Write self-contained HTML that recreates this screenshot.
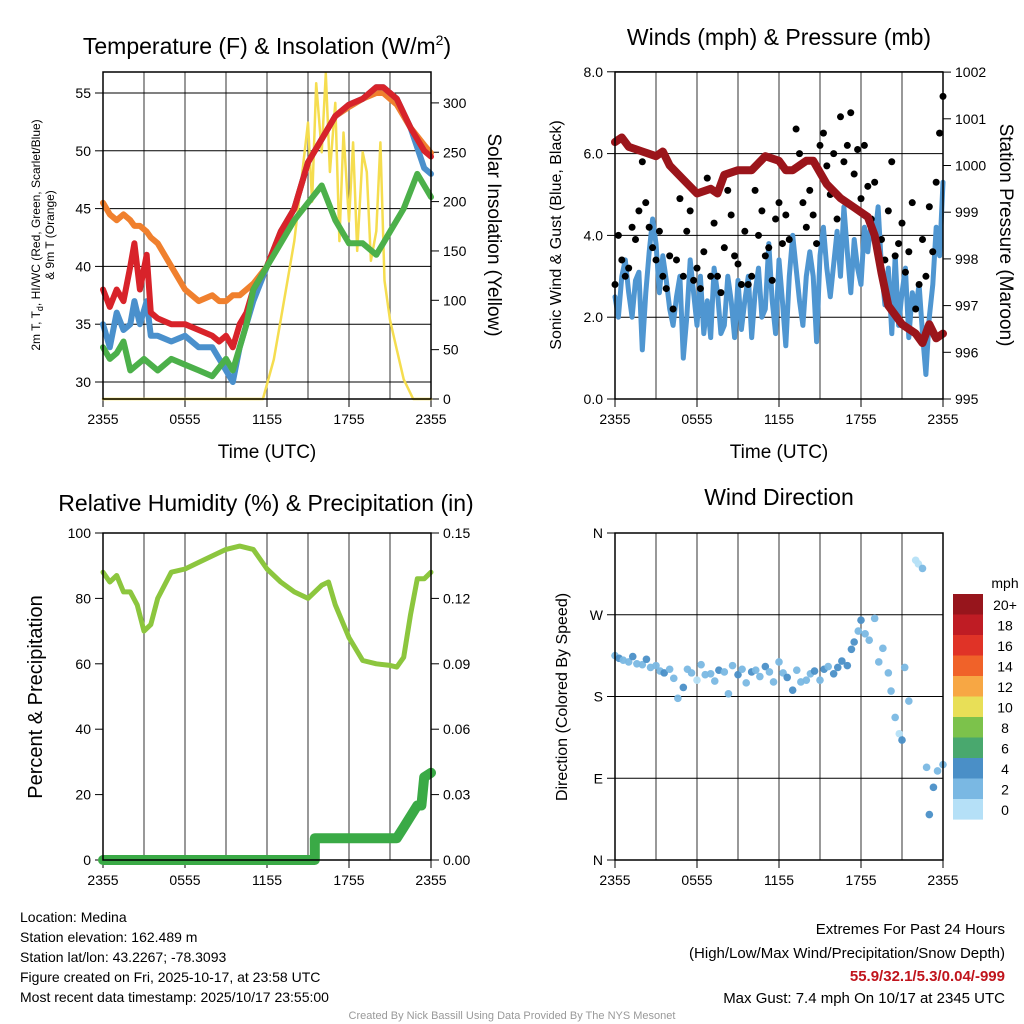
<!DOCTYPE html>
<html><head><meta charset="utf-8">
<style>
html,body{margin:0;padding:0;background:#fff;}
svg{display:block;font-family:"Liberation Sans",sans-serif;}
</style></head>
<body>
<svg id="c" width="1024" height="1024" viewBox="0 0 1024 1024" xmlns="http://www.w3.org/2000/svg">
<rect width="1024" height="1024" fill="#fff"/>
<g id="g"></g>
<text x="267" y="54" font-size="23" text-anchor="middle">Temperature (F) &amp; Insolation (W/m<tspan font-size="14" dy="-9">2</tspan><tspan dy="9">)</tspan></text>
<text x="779" y="45" font-size="23" text-anchor="middle">Winds (mph) &amp; Pressure (mb)</text>
<text x="266" y="511" font-size="23" text-anchor="middle">Relative Humidity (%) &amp; Precipitation (in)</text>
<text x="779" y="505" font-size="23" text-anchor="middle">Wind Direction</text>
<text x="267" y="458" font-size="19" text-anchor="middle">Time (UTC)</text>
<text x="779" y="458" font-size="19" text-anchor="middle">Time (UTC)</text>
<g font-size="12" text-anchor="middle">
<text transform="translate(40,235) rotate(-90)">2m T, T<tspan font-size="9" dy="3">d</tspan><tspan dy="-3">, HI/WC (Red, Green, Scarlet/Blue)</tspan></text>
<text transform="translate(54,235) rotate(-90)">&amp; 9m T (Orange)</text>
</g>
<text transform="translate(488,235) rotate(90)" font-size="19" text-anchor="middle">Solar Insolation (Yellow)</text>
<text transform="translate(561,235) rotate(-90)" font-size="16" text-anchor="middle">Sonic Wind &amp; Gust (Blue, Black)</text>
<text transform="translate(1000,235) rotate(90)" font-size="19" text-anchor="middle">Station Pressure (Maroon)</text>
<text transform="translate(42,697) rotate(-90)" font-size="20" text-anchor="middle">Percent &amp; Precipitation</text>
<text transform="translate(567,697) rotate(-90)" font-size="16" text-anchor="middle">Direction (Colored By Speed)</text>
<g font-size="14">
<text x="20" y="922">Location: Medina</text>
<text x="20" y="942">Station elevation: 162.489 m</text>
<text x="20" y="962">Station lat/lon: 43.2267; -78.3093</text>
<text x="20" y="982">Figure created on Fri, 2025-10-17, at 23:58 UTC</text>
<text x="20" y="1002">Most recent data timestamp: 2025/10/17 23:55:00</text>
</g>
<g font-size="15" text-anchor="end">
<text x="1005" y="934">Extremes For Past 24 Hours</text>
<text x="1005" y="958">(High/Low/Max Wind/Precipitation/Snow Depth)</text>
<text x="1005" y="981" fill="#c0141c" font-weight="bold">55.9/32.1/5.3/0.04/-999</text>
<text x="1005" y="1003">Max Gust: 7.4 mph On 10/17 at 2345 UTC</text>
</g>
<text x="512" y="1019" font-size="11" fill="#999" text-anchor="middle">Created By Nick Bassill Using Data Provided By The NYS Mesonet</text>
</svg>
<script>
// ---- data (hours since 2355) ----
var tHours=[0,0.5,1,1.5,2,2.3,2.7,3.2,3.5,4,5,6,7,8,8.5,9,9.5,10,10.5,11,12,13,14,15,16,17,18,19,20,20.5,21.5,22.5,23.5,24];
var tempRed=[38,36.5,38,37,40,42,38,41,36,35.5,35,35,34.5,34,33.5,34,33,35,36,38,40,43,45,49,51,53,54,54.5,55.5,55.5,54.5,52,50,49.5];
var temp9m=[45.5,44.5,44,44.5,44,43.5,43.5,43,42.5,42,40,38,37,37.5,37,37,37.5,37.5,38,38.5,40,43,45,49,51,53,53.8,54.5,55,55,54,52,50.5,49.8];
var tempWC=[35,33,36,34.5,35,37,35,37,34,34,33.5,34,33,33,32,31,30,33,35,37,40,43,45,49,51,53,54,54.5,55.5,55.5,54.5,52,48.5,48];
var dewHours=[0,0.5,1,1.5,2,3,4,5,6,7,8,9,9.5,10,10.5,11,12,13,14,15,16,17,18,19,20,20.5,21,22,23,24];
var dewpt=[33,32,32.5,33.5,31,32,31,32,31.5,31,30.5,32,31,33,35,38,40,42,44,45.5,47,44,42,42,41,42,43,45,48,46];
var solHours=[0,11.7,12,12.5,13,13.5,14,14.5,15,15.3,15.6,16,16.3,16.6,17,17.3,17.6,18,18.3,18.6,19,19.3,19.6,20,20.3,20.6,21,21.5,22,22.7,24];
var solar=[0,0,15,40,80,120,160,220,280,200,320,250,330,230,300,160,270,180,260,150,250,230,140,170,260,120,80,50,20,0,0];
var presHours=[0,0.5,1,2,3,3.5,4,5,6,7,7.5,8,9,10,11,12,12.5,13,14,14.5,15.5,16.5,17.5,18.5,19,19.5,20,21,22,22.5,23,23.5,24];
var pressure=[1000.5,1000.6,1000.4,1000.3,1000.2,1000.3,1000.0,999.7,999.4,999.5,999.4,999.8,999.9,999.9,1000.2,1000.1,999.9,999.9,1000.1,1000.1,999.6,999.3,999.1,998.9,998.5,997.7,997.0,996.6,996.4,996.2,996.6,996.3,996.4];
var wind=[2.5,2.0,3.0,3.4,2.6,2.0,2.9,3.1,1.2,2.6,3.6,4.4,3.8,2.6,3.5,2.9,2.2,1.8,2.5,3.0,1.0,2.0,3.4,2.6,1.8,3.0,1.6,2.4,1.5,3.2,2.6,1.6,1.8,3.0,2.4,1.5,2.9,1.7,2.4,3.0,1.5,2.6,3.2,2.0,2.2,3.8,2.4,1.6,3.4,2.4,1.3,3.0,4.0,3.2,2.4,1.8,3.0,3.6,3.0,1.4,3.5,4.2,3.2,2.5,3.3,4.1,3.0,4.7,3.6,2.6,3.9,3.2,2.8,4.2,3.6,4.4,3.9,4.7,3.2,2.3,3.2,1.6,3.5,1.8,2.6,3.2,1.5,2.6,2.2,2.8,1.6,0.6,2.0,2.8,4.2,3.5,5.3];
var gust=[2.8,4.0,3.4,3.0,3.2,4.2,3.9,4.6,5.8,4.8,4.2,3.7,3.4,4.1,3.0,2.7,3.5,2.2,3.4,4.9,3.0,4.1,4.6,2.9,3.2,2.7,3.6,5.4,3.0,4.3,3.0,2.6,3.7,5.1,4.5,3.5,3.3,2.8,4.1,2.8,3.0,5.1,4.0,4.6,3.5,3.7,2.9,4.4,4.8,3.8,4.5,3.9,5.6,6.6,6.0,4.8,4.2,5.1,4.5,3.8,6.2,6.5,5.7,5.0,6.0,4.4,6.9,5.8,6.2,7.0,5.5,6.1,4.9,6.2,5.2,4.4,5.3,3.6,3.9,3.4,4.6,5.8,3.5,3.8,4.3,3.1,3.6,4.8,2.2,2.8,3.9,3.0,4.7,3.6,5.3,6.5,7.4];
var rhHours=[0,0.5,1,1.5,2,2.5,3,3.5,4,5,6,7,8,9,10,11,12,13,14,15,16,16.5,17,18,19,20,21,21.5,22,22.5,23,23.5,24];
var rh=[88,85,87,82,82,78,70,72,80,88,89,91,93,95,96,95,89,85,82,80,84,85,78,68,61,60,59.5,59,62,75,86,86,88];
var precHours=[0,15.5,15.5,21.5,22,22.5,23,23.3,23.5,24];
var precip=[0,0,0.01,0.01,0.015,0.02,0.025,0.025,0.038,0.04];
var dirHours=[0,0.3,0.6,1,1.3,1.6,2,2.3,2.6,3,3.3,3.6,4,4.3,4.6,5,5.3,5.6,6,6.3,6.6,7,7.3,7.6,8,8.3,8.6,9,9.3,9.6,10,10.3,10.6,11,11.3,11.6,12,12.3,12.6,13,13.3,13.6,14,14.3,14.6,15,15.3,15.6,16,16.3,16.6,17,17.3,17.5,17.8,18,18.3,18.6,19,19.3,19.6,20,20.2,20.5,20.8,21,21.2,21.5,22,22.2,22.5,22.8,23,23.3,23.6,24];
var dirDeg=[225,222,220,218,224,216,215,221,212,214,208,206,210,200,178,190,210,206,198,215,204,205,197,209,207,183,214,204,210,195,207,209,202,213,207,196,218,206,201,187,209,196,198,205,208,198,210,213,205,212,219,214,232,240,252,264,249,242,266,218,233,206,186,157,139,132,212,175,330,326,321,102,50,80,98,105];
var dirSpd=[3,4,2,3,4,2,3,5,3,2,3,4,2,3,3,4,2,3,1,3,2,3,2,4,3,2,3,4,3,3,4,2,3,4,3,2,3,3,4,4,2,3,3,2,4,3,4,3,5,4,4,5,4,5,3,4,2,3,3,2,3,2,3,2,1,4,3,2,1,1,2,3,4,4,3,3];
var yTicksT=[30,35,40,45,50,55];
var yTicksSol=[0,50,100,150,200,250,300];
var yTicksW=["0.0","2.0","4.0","6.0","8.0"];
var yTicksP=[995,996,997,998,999,1000,1001,1002];
var yTicksRH=[0,20,40,60,80,100];
var yTicksPr=["0.00","0.03","0.06","0.09","0.12","0.15"];
var yTicksDir=["N","E","S","W","N"];
var xTickLabels=["2355","0555","1155","1755","2355"];
var cbarLabels=["20+","18","16","14","12","10","8","6","4","2","0"];
var cbarColors=["#97151c","#bf1c24","#e03327","#f06229","#f7a744","#e8df57","#7cc24b","#49a86e","#4a8fc7","#7ab8e3","#b5e0f7"];

var NS='http://www.w3.org/2000/svg';var G=document.getElementById('g');
function el(t,a,p){var e=document.createElementNS(NS,t);for(var k in a)e.setAttribute(k,a[k]);(p||G).appendChild(e);return e;}
function panel(x0,y0,name){
  var P={x0:x0,y0:y0,w:328,h:327};
  P.X=function(h){return x0+h/24*328;};
  P.g=el('g',{});
  for(var i=1;i<8;i++){var gx=P.X(i*3);el('line',{x1:gx,y1:y0,x2:gx,y2:y0+327,stroke:'#555','stroke-width':1.2},P.g);}
  for(var i=0;i<5;i++){var t=el('text',{x:P.X(i*6),y:y0+352,'font-size':14,'text-anchor':'middle'},P.g);t.textContent=xTickLabels[i];
    el('line',{x1:P.X(i*6),y1:y0+327,x2:P.X(i*6),y2:y0+335,stroke:'#000'},P.g);}
  return P;
}
function frame(P){el('rect',{x:P.x0,y:P.y0,width:328,height:327,fill:'none',stroke:'#000','stroke-width':1.5},P.g);}
function yTicks(P,vals,labels,fn,right,grid){
  for(var i=0;i<vals.length;i++){var y=fn(vals[i]);
    if(grid)el('line',{x1:P.x0,y1:y,x2:P.x0+328,y2:y,stroke:'#000','stroke-width':1},P.g);
    var xa=right?P.x0+328:P.x0;
    el('line',{x1:xa,y1:y,x2:xa+(right?8:-8),y2:y,stroke:'#000'},P.g);
    var t=el('text',{x:right?xa+12:xa-12,y:y+5,'font-size':14,'text-anchor':right?'start':'end'},P.g);t.textContent=labels[i];
    }
}
function line(P,xs,ys,fy,col,w,name){
  var d='';for(var i=0;i<xs.length;i++)d+=(i?'L':'M')+P.X(xs[i]).toFixed(1)+','+fy(ys[i]).toFixed(1);
  var p=el('path',{d:d,fill:'none',stroke:col,'stroke-width':w,'stroke-linejoin':'round','stroke-linecap':'round'},P.g);
  return p;}
function spd(s){return cbarColors[Math.max(0,10-Math.floor(s/2))];}

// Panel 1
var P1=panel(103,72,'temperature-panel');
var fT=function(v){return 382-(v-30)*11.56;};var fS=function(v){return 399-v*0.987;};
yTicks(P1,yTicksT,yTicksT,fT,false,true);
yTicks(P1,yTicksSol,yTicksSol,fS,true,false);
line(P1,solHours,solar,fS,'#f5dd4f',2.5,'solar-line');
line(P1,tHours,temp9m,fT,'#f0802e',6,'temp-9m-line');
line(P1,tHours,tempWC,fT,'#4a90cc',6,'windchill-line');
line(P1,tHours,tempRed,fT,'#d8232a',6,'temp-2m-line');
line(P1,dewHours,dewpt,fT,'#4cb04a',6,'dewpoint-line');
frame(P1);

// Panel 2
var P2=panel(615,72,'wind-panel');
var fW=function(v){return 399-v*40.9;};var fP=function(v){return 399-(v-995)*46.7;};
yTicks(P2,[0,2,4,6,8],yTicksW,fW,false,true);
yTicks(P2,yTicksP,yTicksP,fP,true,false);
var wh=[];for(var i=0;i<wind.length;i++)wh.push(i*0.25);
line(P2,wh,wind,fW,'#4f96d1',5,'wind-line');
for(var i=0;i<gust.length;i++){var c=el('circle',{cx:P2.X(i*0.25),cy:fW(gust[i]),r:3.5,fill:'#000'},P2.g);

}
line(P2,presHours,pressure,fP,'#9b151b',8,'pressure-line');
frame(P2);

// Panel 3
var P3=panel(103,533,'humidity-panel');
var fR=function(v){return 860-v*3.27;};var fPr=function(v){return 860-v*2180;};
yTicks(P3,yTicksRH,yTicksRH,fR,false,false);
yTicks(P3,[0,0.03,0.06,0.09,0.12,0.15],yTicksPr,fPr,true,false);
line(P3,rhHours,rh,fR,'#8cc63e',5,'rh-line');
line(P3,precHours,precip,fPr,'#3aaa46',10,'precip-line');
frame(P3);

// Panel 4
var P4=panel(615,533,'direction-panel');
var fD=function(v){return 860-v*327/360;};
var dv=[0,90,180,270,360];
yTicks(P4,dv,yTicksDir,fD,false,true);
for(var i=0;i<dirDeg.length;i++){var c=el('circle',{cx:P4.X(dirHours[i]),cy:fD(dirDeg[i]),r:3.8,fill:spd(dirSpd[i]),opacity:0.95},P4.g);

}
frame(P4);

// Colorbar
var cb=el('g',{});
var ct=el('text',{x:1005,y:588,'font-size':14,'text-anchor':'middle'},cb);ct.textContent='mph';
for(var i=0;i<11;i++){el('rect',{x:953,y:594+i*20.5,width:30,height:20.6,fill:cbarColors[i]},cb);
var t=el('text',{x:1005,y:610+i*20.5,'font-size':14,'text-anchor':'middle'},cb);t.textContent=cbarLabels[i];
}
</script>
</body></html>
